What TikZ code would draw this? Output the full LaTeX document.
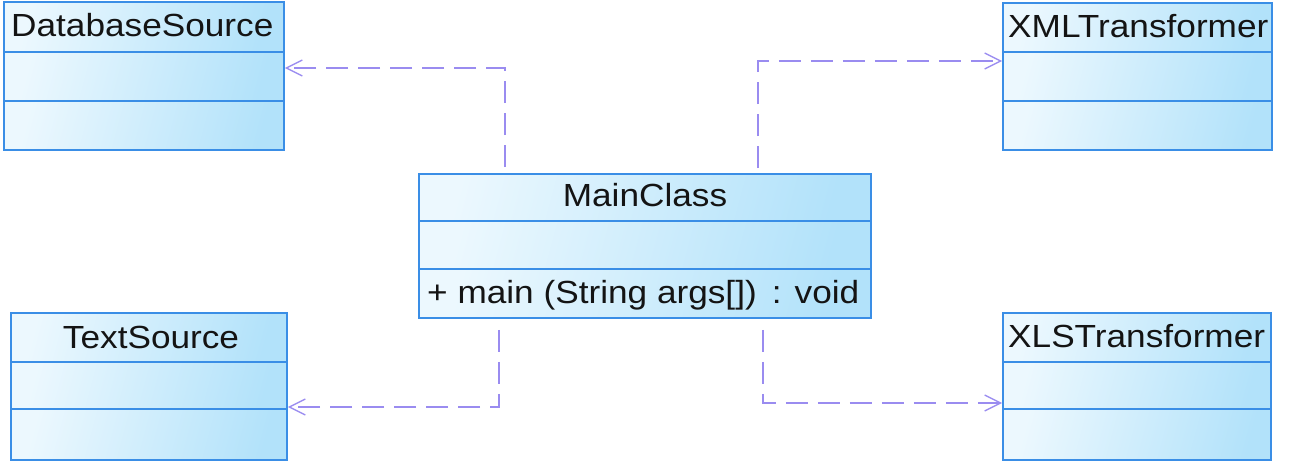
\documentclass[tikz,border=0pt]{standalone}
\usepackage{fontspec}
\setmainfont[FakeStretch=1.1]{Liberation Sans}
\usetikzlibrary{arrows.meta,fit}
\definecolor{clsborder}{RGB}{58,142,230}
\definecolor{clslight}{RGB}{236,248,254}
\definecolor{clsdark}{RGB}{178,226,250}
\definecolor{depcol}{RGB}{154,140,240}
\definecolor{txtcol}{RGB}{20,20,20}
\tikzset{
  comp/.style={left color=clslight, right color=clsdark, shading angle=75},
  clsframe/.style={draw=clsborder, line width=1.8pt, inner sep=0pt},
  clsline/.style={draw=clsborder, line width=1.6pt},
  lbl/.style={inner sep=0pt, text=txtcol, font=\fontsize{32}{38}\selectfont},
  dep/.style={draw=depcol, line width=1.5pt, dash pattern=on 22pt off 10pt,
    -{Straight Barb[length=16pt,width=16pt,line width=1.3pt]}},
}
\newcommand\umlcls[7]{%
  \shade[comp] (#2,#3) rectangle (#4,#5);
  \shade[comp] (#2,#5) rectangle (#4,#6);
  \shade[comp] (#2,#6) rectangle (#4,#7);
  \draw[clsline] (#2,#5) -- (#4,#5);
  \draw[clsline] (#2,#6) -- (#4,#6);
  \node[clsframe, fit={(#2,#3) (#4,#7)}] (#1) {};
}
\begin{document}
\begin{tikzpicture}[x=1pt,y=-1pt]
\useasboundingbox (0,0) rectangle (1295,476);
\umlcls{db}{4}{2}{284}{52}{101}{150}
\umlcls{xml}{1003}{3}{1272}{52}{101}{150}
\umlcls{main}{419}{174}{871}{221}{269}{318}
\umlcls{txt}{11}{313}{287}{362}{409}{460}
\umlcls{xls}{1003}{313}{1271}{362}{409}{460}
\node[lbl, anchor=base west] (dbt) at (11,37) {DatabaseSource};
\node[lbl, anchor=base west] (xmlt) at (1008,38) {XMLTransformer};
\node[lbl, anchor=base] (maint) at (645,206) {MainClass};
\node[lbl, anchor=base west] (mainm) at (427,303) {+ main (String args[])\ \,: void};
\node[lbl, anchor=base] (txtt) at (151,348) {TextSource};
\node[lbl, anchor=base west] (xlst) at (1008,347) {XLSTransformer};
\draw[dep, shorten <=6pt] ([xshift=-140pt]main.north) |- ([yshift=8pt]db.east);
\draw[dep, shorten <=5pt] ([xshift=113pt]main.north) |- ([yshift=15.5pt]xml.west);
\draw[dep, shorten <=11pt] ([xshift=-146pt]main.south) |- ([yshift=-20.5pt]txt.east);
\draw[dep, shorten <=11pt] ([xshift=118pt]main.south) |- ([yshift=-16.5pt]xls.west);
\end{tikzpicture}
\end{document}
